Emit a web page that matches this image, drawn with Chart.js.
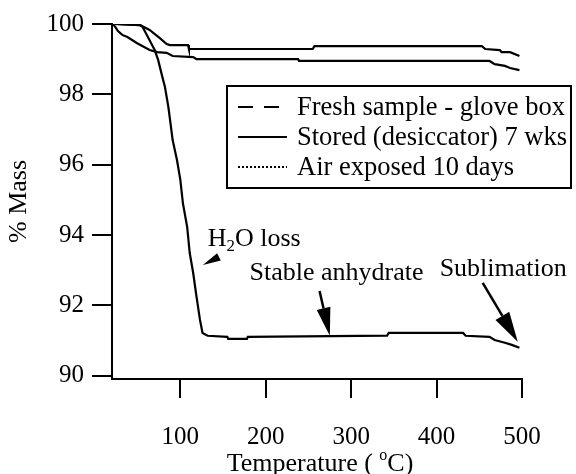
<!DOCTYPE html>
<html>
<head>
<meta charset="utf-8">
<script src="https://cdn.jsdelivr.net/npm/chart.js@4.4.0/dist/chart.umd.min.js"></script>
<style>
    html, body { margin: 0; padding: 0; background: #fff; }
    #wrap { width: 576px; height: 474px; }
</style>
</head>
<body>
<div id="wrap"><canvas id="tgaChart"></canvas></div>
<script>
// TGA curves: temperature (°C) and % mass
const freshTemp = [23, 53, 64, 76, 84, 88, 109, 110, 255, 257, 453, 457, 474, 476, 486, 497];
const freshMass = [100, 99.97, 99.83, 99.6, 99.43, 99.4, 99.4, 99.29, 99.29, 99.37, 99.37, 99.29, 99.26, 99.2, 99.2, 99.09];

const storedTemp = [21, 24, 27, 32, 38, 49, 64, 73, 84, 91, 115, 119, 238, 239, 462, 468, 480, 486, 497];
const storedMass = [100, 99.91, 99.8, 99.69, 99.63, 99.46, 99.26, 99.2, 99.18, 99.09, 99.06, 99.0, 99.0, 98.95, 98.95, 98.86, 98.81, 98.75, 98.69];

const airTemp = [23, 53, 56, 62, 70, 74, 79, 82, 86, 88, 91, 96, 100, 103, 108, 111, 115, 119, 123, 126, 132,
                 155, 156, 178, 179, 342, 344, 431, 434, 462, 468, 480, 488, 497];
const airMass = [100, 99.97, 99.91, 99.63, 99.26, 98.98, 98.49, 98.21, 97.64, 97.27, 96.7, 96.14, 95.57, 94.91, 94.23,
                 93.49, 92.93, 92.24, 91.59, 91.22, 91.14, 91.11, 91.05, 91.05, 91.11, 91.14, 91.22, 91.22, 91.14,
                 91.11, 91.02, 90.94, 90.88, 90.8];

const seriesLabels = ['Fresh sample - glove box', 'Stored (desiccator) 7 wks', 'Air exposed 10 days'];
const xTicks = [100, 200, 300, 400, 500];
const yTicks = [90, 92, 94, 96, 98, 100];

const serif = '"Liberation Serif", "Times New Roman", serif';

document.addEventListener("DOMContentLoaded", function () {

    function toPoints(xs, ys) {
        return xs.map((x, i) => ({ x: x, y: ys[i] }));
    }

    // legend samples: dashed / solid / dotted
    const legendDash = [[15, 11], [], [2, 2]];

    // notes on the curves, placed in data units
    const notes = [
        { text: 'H', sub: '2', rest: 'O loss', at: [132, 93.69], from: [145, 93.38], to: [126.4, 93.15], head: 18, half: 4, shaft: false },
        { text: 'Stable anhydrate', at: [181, 92.73], from: [263, 92.41], to: [275, 91.14], head: 28, half: 7, shaft: true },
        { text: 'Sublimation', at: [403.6, 92.84], from: [454, 92.64], to: [495, 90.97], head: 30, half: 8, shaft: true }
    ];

    const boxLegend = {
        id: 'boxLegend',
        afterDraw(chart) {
            const ctx = chart.ctx;
            const ca = chart.chartArea;
            const left = ca.left + 115, top = ca.top + 62, w = 344, h = 102;
            ctx.save();
            ctx.fillStyle = '#fff';
            ctx.fillRect(left, top, w, h);
            ctx.strokeStyle = '#000';
            ctx.lineWidth = 2;
            ctx.strokeRect(left, top, w, h);
            ctx.font = '26.5px ' + serif;
            ctx.fillStyle = '#000';
            ctx.textBaseline = 'alphabetic';
            seriesLabels.forEach((label, i) => {
                const y = top + 21 + i * 30;
                ctx.beginPath();
                ctx.setLineDash(legendDash[i]);
                ctx.moveTo(left + 11, y);
                ctx.lineTo(left + 60, y);
                ctx.stroke();
                ctx.setLineDash([]);
                ctx.fillText(label, left + 70, y + 8);
            });
            ctx.restore();
        }
    };

    const curveNotes = {
        id: 'curveNotes',
        afterDraw(chart) {
            const ctx = chart.ctx;
            const xs = chart.scales.x, ys = chart.scales.y;
            ctx.save();
            ctx.fillStyle = '#000';
            ctx.strokeStyle = '#000';
            ctx.textBaseline = 'alphabetic';
            notes.forEach(n => {
                let tx = xs.getPixelForValue(n.at[0]);
                const ty = ys.getPixelForValue(n.at[1]);
                ctx.font = '26px ' + serif;
                ctx.fillText(n.text, tx, ty);
                if (n.sub) {
                    tx += ctx.measureText(n.text).width;
                    ctx.font = '17px ' + serif;
                    ctx.fillText(n.sub, tx, ty + 5);
                    tx += ctx.measureText(n.sub).width;
                    ctx.font = '26px ' + serif;
                    ctx.fillText(n.rest, tx, ty);
                }
                // arrow
                const x0 = xs.getPixelForValue(n.from[0]), y0 = ys.getPixelForValue(n.from[1]);
                const x1 = xs.getPixelForValue(n.to[0]), y1 = ys.getPixelForValue(n.to[1]);
                const ang = Math.atan2(y1 - y0, x1 - x0);
                const bx = x1 - n.head * Math.cos(ang), by = y1 - n.head * Math.sin(ang);
                if (n.shaft) {
                    ctx.lineWidth = 2.5;
                    ctx.beginPath();
                    ctx.moveTo(x0, y0);
                    ctx.lineTo(bx, by);
                    ctx.stroke();
                }
                ctx.beginPath();
                ctx.moveTo(x1, y1);
                ctx.lineTo(bx + n.half * Math.sin(ang), by - n.half * Math.cos(ang));
                ctx.lineTo(bx - n.half * Math.sin(ang), by + n.half * Math.cos(ang));
                ctx.closePath();
                ctx.fill();
            });

            // x axis title with a raised "o"
            const ca = chart.chartArea;
            const part1 = 'Temperature ( ', sup = 'o', part2 = 'C)';
            ctx.font = '26px ' + serif;
            const w1 = ctx.measureText(part1).width, w2 = ctx.measureText(part2).width;
            ctx.font = '16px ' + serif;
            const ws = ctx.measureText(sup).width;
            let x = (ca.left + ca.right) / 2 + 3 - (w1 + ws + w2) / 2;
            const yb = 471;
            ctx.font = '26px ' + serif;
            ctx.fillText(part1, x, yb);
            x += w1;
            ctx.font = '16px ' + serif;
            ctx.fillText(sup, x, yb - 11);
            x += ws;
            ctx.font = '26px ' + serif;
            ctx.fillText(part2, x, yb);
            ctx.restore();
        }
    };

    const lineStyle = { borderColor: '#000', borderWidth: 2.2, pointRadius: 0, tension: 0, fill: false };

    new Chart(document.getElementById('tgaChart').getContext('2d'), {
        type: 'line',
        data: {
            datasets: [
                Object.assign({ label: seriesLabels[0], data: toPoints(freshTemp, freshMass) }, lineStyle),
                Object.assign({ label: seriesLabels[1], data: toPoints(storedTemp, storedMass) }, lineStyle),
                Object.assign({ label: seriesLabels[2], data: toPoints(airTemp, airMass) }, lineStyle)
            ]
        },
        options: {
            responsive: true,
            maintainAspectRatio: false,
            animation: false,
            layout: { padding: { top: 24, right: 54, left: 0, bottom: 0 } },
            plugins: { legend: { display: false }, tooltip: { enabled: false } },
            scales: {
                x: {
                    type: 'linear',
                    min: 20,
                    max: 500,
                    afterBuildTicks: s => { s.ticks = xTicks.map(v => ({ value: v })); },
                    afterFit: s => { s.height = 95; },
                    grid: { drawOnChartArea: false, drawTicks: true, tickLength: 19, color: '#000', lineWidth: 2 },
                    border: { display: true, color: '#000', width: 2 },
                    ticks: { color: '#000', padding: 24, maxRotation: 0, font: { family: serif, size: 25 } }
                },
                y: {
                    type: 'linear',
                    min: 89.91,
                    max: 100,
                    afterBuildTicks: s => { s.ticks = yTicks.map(v => ({ value: v })); },
                    afterFit: s => { s.width = 112; },
                    grid: { drawOnChartArea: false, drawTicks: true, tickLength: 20, color: '#000', lineWidth: 2 },
                    border: { display: true, color: '#000', width: 2 },
                    ticks: { color: '#000', padding: 8, font: { family: serif, size: 25 } },
                    title: { display: true, text: '% Mass', color: '#000', padding: { top: 4, bottom: 0 }, font: { family: serif, size: 26 } }
                }
            }
        },
        plugins: [boxLegend, curveNotes]
    });
});
</script>
</body>
</html>
